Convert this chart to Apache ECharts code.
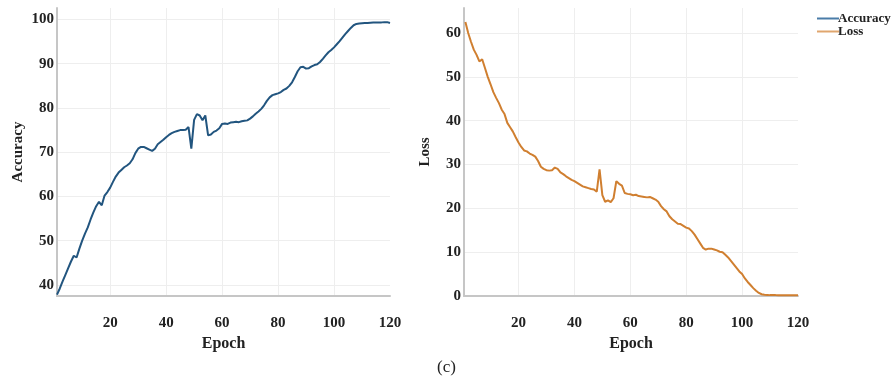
<!DOCTYPE html>
<html>
<head>
<meta charset="utf-8">
<script src="https://cdn.jsdelivr.net/npm/echarts@6/dist/echarts.min.js"></script>
<style>
html,body{margin:0;padding:0;background:#fff;}
#chart{width:893px;height:382px;}
</style>
</head>
<body>
<div id="chart"></div>
<script>
const epochs = Array.from({length: 120}, (_, i) => i + 1);
const accuracy = [
37.8,39.2,40.8,42.3,43.8,45.3,46.6,46.2,48.2,50.0,
51.6,53.0,54.8,56.4,57.8,58.8,58.0,60.2,61.0,62.0,
63.3,64.5,65.4,66.0,66.6,67.0,67.5,68.4,69.8,70.8,
71.2,71.2,70.9,70.6,70.3,70.8,71.8,72.3,72.8,73.4,
73.9,74.3,74.6,74.8,75.0,75.0,75.1,75.7,70.8,77.3,
78.6,78.3,77.2,78.3,73.8,74.0,74.6,74.9,75.4,76.4,
76.5,76.4,76.7,76.8,76.9,76.8,77.0,77.1,77.2,77.6,
78.1,78.7,79.2,79.8,80.6,81.6,82.4,82.9,83.1,83.3,
83.6,84.1,84.4,85.0,85.8,87.0,88.3,89.2,89.3,88.9,
89.0,89.4,89.7,89.9,90.4,91.1,91.9,92.6,93.1,93.7,
94.4,95.1,95.9,96.7,97.4,98.1,98.7,99.0,99.1,99.15,
99.2,99.2,99.25,99.3,99.3,99.35,99.35,99.4,99.4,99.2
];
const loss = [
62.5,60.0,58.0,56.2,55.0,53.5,54.0,52.0,50.0,48.3,
46.5,45.2,44.0,42.5,41.5,39.5,38.5,37.5,36.2,35.0,
34.0,33.2,33.0,32.5,32.2,31.8,30.8,29.5,29.0,28.7,
28.6,28.7,29.3,29.0,28.2,27.8,27.3,26.9,26.5,26.2,
25.8,25.4,25.0,24.8,24.6,24.4,24.3,23.8,28.9,23.0,
21.5,21.8,21.4,22.3,26.2,25.6,25.2,23.5,23.3,23.2,
23.0,23.1,22.8,22.7,22.6,22.5,22.6,22.3,22.0,21.5,
20.5,19.8,19.3,18.2,17.5,17.0,16.5,16.4,16.0,15.6,
15.4,14.8,14.0,13.0,12.0,11.0,10.6,10.8,10.8,10.6,
10.4,10.1,10.0,9.4,8.8,8.0,7.2,6.4,5.6,5.0,
4.0,3.2,2.5,1.8,1.2,0.7,0.4,0.3,0.25,0.2,
0.2,0.2,0.15,0.15,0.15,0.15,0.15,0.15,0.15,0.15
];
const seriesNames = ['Accuracy', 'Loss'];
const xTitle = 'Epoch';
const caption = '(c)';

const FONT = '"Liberation Serif", "DejaVu Serif", serif';
const TXT = '#222';
const axisLine = {show: true, lineStyle: {color: '#c6c6c6', width: 2}};
const split = {show: true, showMinLine: false, showMaxLine: false, lineStyle: {color: '#eeeeee', width: 1}};

function xAxis(gridIndex, min) {
  return {
    type: 'value', gridIndex, min, max: 120,
    name: xTitle, nameLocation: 'middle', nameGap: 40,
    nameTextStyle: {fontFamily: FONT, fontSize: 16, color: TXT, fontWeight: 'bold'},
    axisLine, axisTick: {show: false}, splitLine: split,
    axisLabel: {fontFamily: FONT, fontSize: 15, color: TXT, fontWeight: 'bold', margin: 20,
      formatter: v => (Math.abs(v % 20) < 1e-6 ? String(v) : '')}
  };
}
function yAxis(gridIndex, min, max, name, gap) {
  return {
    type: 'value', gridIndex, min, max,
    name, nameLocation: 'middle', nameGap: gap, nameRotate: 90,
    nameTextStyle: {fontFamily: FONT, fontSize: 15, color: TXT, fontWeight: 'bold'},
    axisLine, axisTick: {show: false}, splitLine: split,
    axisLabel: {fontFamily: FONT, fontSize: 15, color: TXT, fontWeight: 'bold', margin: 3,
      formatter: v => (Math.abs(v % 10) < 1e-6 ? String(v) : '')}
  };
}

const chart = echarts.init(document.getElementById('chart'), null, {renderer: 'canvas'});
chart.setOption({
  backgroundColor: '#fff',
  animation: false,
  legend: {
    data: seriesNames, orient: 'vertical', left: 812, top: 7,
    icon: 'rect', itemWidth: 22, itemHeight: 2, itemGap: 0,
    textStyle: {fontFamily: FONT, fontSize: 13, color: TXT, fontWeight: 'bold', padding: [0,0,0,-6]}
  },
  grid: [
    {left: 57, top: 8, width: 333, height: 288},
    {left: 464, top: 8, width: 334, height: 288}
  ],
  xAxis: [xAxis(0, 1), xAxis(1, 0.5)],
  yAxis: [yAxis(0, 37.5, 102.6, 'Accuracy', 31), yAxis(1, 0, 65.7, 'Loss', 31)],
  series: [
    {name: seriesNames[0], type: 'line', xAxisIndex: 0, yAxisIndex: 0, showSymbol: false,
     data: epochs.map((e, i) => [e, accuracy[i]]),
     lineStyle: {color: '#22557f', width: 2}, itemStyle: {color: '#4a7ca8'}},
    {name: seriesNames[1], type: 'line', xAxisIndex: 1, yAxisIndex: 1, showSymbol: false,
     data: epochs.map((e, i) => [e, loss[i]]),
     lineStyle: {color: '#d07f30', width: 2}, itemStyle: {color: '#e0a66e'}}
  ],
  graphic: [{type: 'text', left: 437, top: 359,
    style: {text: caption, font: '17px ' + FONT, fill: TXT}}]
});
</script>
</body>
</html>
